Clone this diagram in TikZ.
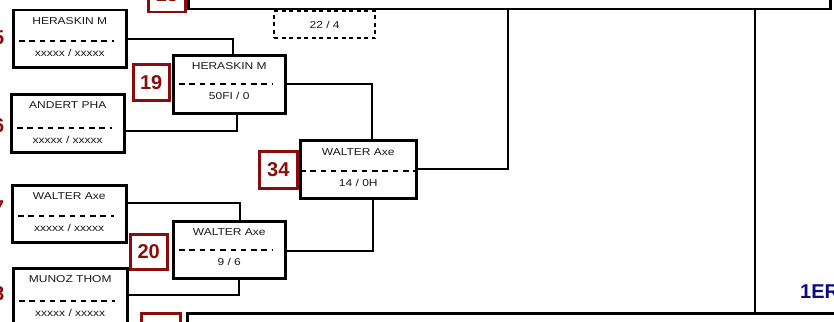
\documentclass[tikz,border=0pt]{standalone}
\usepackage{fontspec}
\setmainfont{Liberation Sans}
\newfontfamily\boxfont[FakeStretch=1.2]{Liberation Sans}
\usetikzlibrary{calc}
\definecolor{dred}{RGB}{140,12,12}
\definecolor{navyc}{RGB}{12,12,128}
\definecolor{txt}{RGB}{25,25,25}
\tikzset{
  pbox/.style={draw=black, line width=2.5pt, anchor=north west, inner sep=0, minimum width=113pt, minimum height=57pt},
  nbox/.style={draw=dred, line width=2.5pt, anchor=north west, inner sep=0, minimum width=37pt, minimum height=35pt, text=dred, font=\bfseries\fontsize{20}{20}\selectfont},
  lbl/.style={inner sep=0, text=txt, font=\boxfont\fontsize{10}{12}\selectfont},
  dl/.style={line width=2.6pt, dash pattern=on 5.5pt off 4.8pt},
  conn/.style={line width=2.3pt},
  digit/.style={inner sep=0, anchor=east, text=dred, font=\bfseries\fontsize{20}{20}\selectfont},
  bigbox/.style={draw=black, line width=2.5pt, anchor=north west, inner sep=0},
  sbox/.style={draw=black, line width=2.3pt, dash pattern=on 4pt off 3.5pt, anchor=north west, inner sep=0, minimum width=101pt, minimum height=27pt, text=txt, font=\boxfont\fontsize{10}{12}\selectfont},
}
% #1 name, #2 x, #3 y, #4 width, #5 height, #6 dash offset, #7 top text, #8 bottom text
\newcommand\plbox[8]{%
  \node[pbox, minimum width=#4pt, minimum height=#5pt] (#1) at (#2,#3) {};
  \node[lbl] (#1-t) at ($(#1.north)+(0,12.5)$) {#7};
  \draw[dl] ($(#1.north west)+(7,#6)$) -- ($(#1.north east)+(-14,#6)$);
  \node[lbl] (#1-b) at ($(#1.north)+(0,#6+12)$) {#8};
}
\begin{document}
\begin{tikzpicture}[x=1pt,y=-1pt]
\useasboundingbox (0,0) rectangle (834,321);
\clip (0,0) rectangle (834,321);
\fill[white] (0,0) rectangle (834,321);

% large boxes above and below
\node[bigbox, minimum width=642pt, minimum height=68pt] (T) at (187,-60) {};
\node[bigbox, minimum width=700pt, minimum height=60pt] (Bot) at (186,312) {};
\node[nbox] (R18) at (147,-24) {18};
\node[nbox, minimum width=39pt] (R21) at (140,312) {21};

% score placeholder
\node[sbox] (S) at (273,10) {22 / 4};

% first round boxes
\plbox{A}{12}{9}{113}{57}{32}{HERASKIN M}{xxxxx / xxxxx}
\plbox{B}{10}{93}{113}{58}{35}{ANDERT PHA}{xxxxx / xxxxx}
\plbox{C}{11}{184}{114}{57}{32}{WALTER Axe}{xxxxx / xxxxx}
\plbox{D}{12}{267}{114}{57}{34}{MUNOZ THOM}{xxxxx / xxxxx}

% second round
\plbox{B19}{172}{54}{112}{58}{30}{HERASKIN M}{50FI / 0}
\plbox{B20}{172}{220}{112}{57}{30}{WALTER Axe}{9 / 6}
\node[nbox, minimum width=36pt, minimum height=36pt] (R19) at (132,63) {19};
\node[nbox] (R20) at (129,233) {20};

% third round
\node[pbox, minimum width=116pt, minimum height=58pt] (B34) at (299,139) {};
\node[lbl] (B34-t) at ($(B34.north)+(0,13)$) {WALTER Axe};
\draw[dl] ($(B34.north west)+(1,32)$) -- ($(B34.north east)+(-1,32)$);
\node[lbl] (B34-b) at ($(B34.north)+(0,44)$) {14 / 0H};
\node[nbox, minimum width=38pt, minimum height=37pt] (R34) at (258,150) {34};

% left seed numbers (cut by the frame)
\node[digit] (n5) at (4.5,38) {5};
\node[digit] (n6) at (4.5,126) {6};
\node[digit] (n7) at (4.5,208) {7};
\node[digit] (n8) at (4.5,294) {8};

% connectors
\draw[conn] (A.east) -| ($(B19.north)+(4,0)$);
\draw[conn] ($(B.east)+(0,8)$) -| ($(B19.south)+(8,0)$);
\draw[conn] (B19.east) -| ($(B34.north)+(14,0)$);
\draw[conn] ($(C.east)+(0,-11)$) -| ($(B20.north)+(11,0)$);
\draw[conn] ($(D.east)+(0,-1.5)$) -| ($(B20.south)+(10,0)$);
\draw[conn] ($(B34.south)+(15,0)$) |- ($(B20.east)+(0,1.5)$);
\coordinate (Tj) at ($(T.south west)+(321,0)$);
\draw[conn] (B34.east) -| (Tj);
\coordinate (Tj2) at ($(T.south west)+(568,0)$);
\coordinate (Bj2) at ($(Bot.north west)+(569,0)$);
\draw[conn] (Tj2) -- (Bj2);

% round label
\node[inner sep=0, anchor=base west, text=navyc, font=\bfseries\fontsize{20}{20}\selectfont] (L1) at (800,298) {1ER};
\end{tikzpicture}
\end{document}
